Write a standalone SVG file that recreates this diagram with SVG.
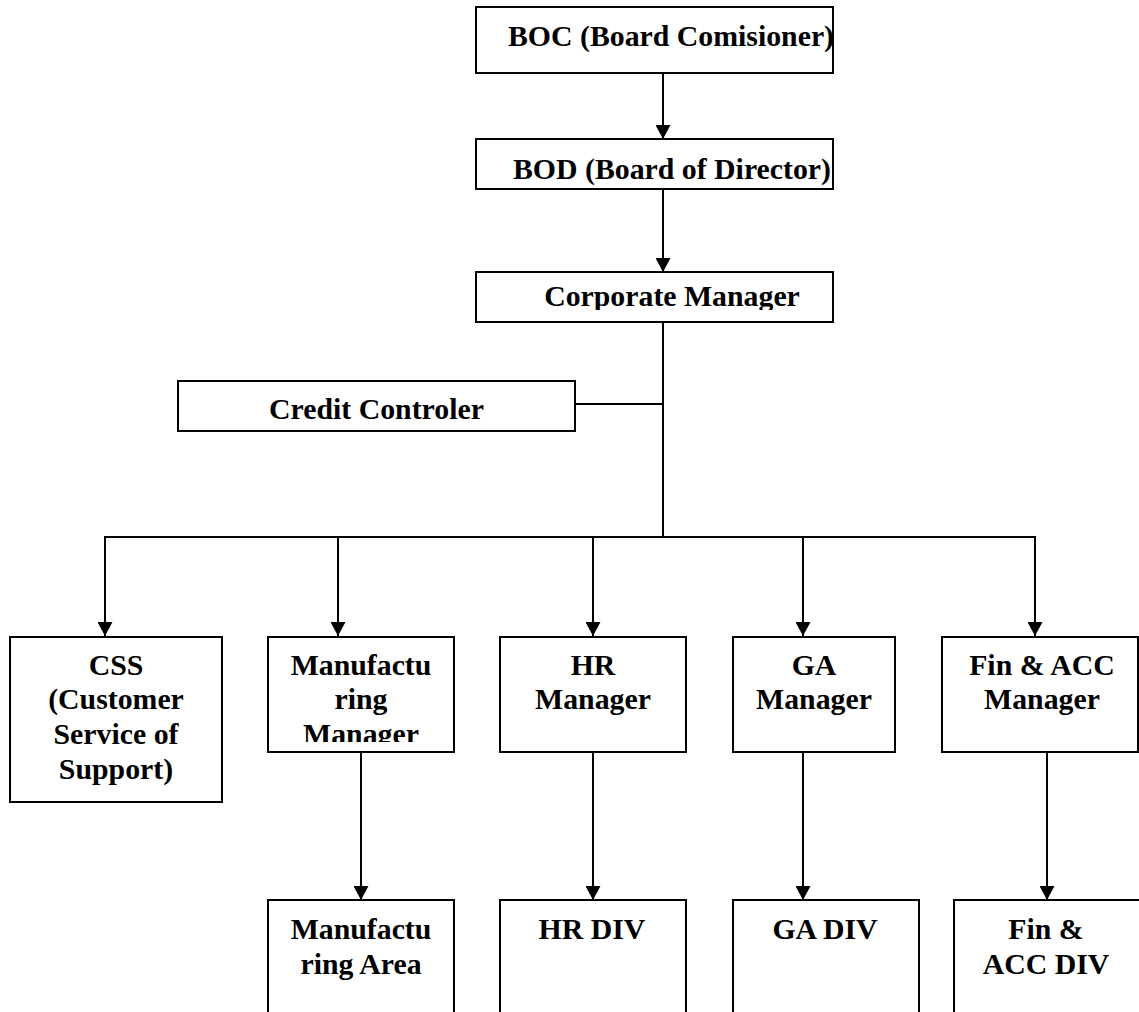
<svg xmlns="http://www.w3.org/2000/svg" width="1139" height="1012" viewBox="0 0 1139 1012">
<style>
.box{fill:#fff;stroke:#000;stroke-width:2}
.t{font-family:"Liberation Serif","Times New Roman",serif;font-weight:bold;font-size:29.8px;fill:#000;text-anchor:middle}
.ln{fill:none;stroke:#000;stroke-width:2}
</style>
<defs>
<marker id="ah" markerWidth="14" markerHeight="15" refX="14" refY="7.5" orient="auto" markerUnits="userSpaceOnUse">
<path d="M0,0 L14,7.5 L0,15 Z" fill="#000"/>
</marker>
<clipPath id="cpCorp"><rect x="476" y="272" width="360" height="38"/></clipPath>
<clipPath id="cpMM"><rect x="268" y="637" width="186" height="105"/></clipPath>
</defs>
<rect width="1139" height="1012" fill="#fff"/>
<g id="connectors">
<line class="ln" x1="663" y1="73" x2="663" y2="139" marker-end="url(#ah)"/>
<line class="ln" x1="663" y1="189" x2="663" y2="272" marker-end="url(#ah)"/>
<polyline class="ln" points="663,322 663,537"/>
<line class="ln" x1="575" y1="404" x2="663" y2="404"/>
<line class="ln" x1="104" y1="537" x2="1036" y2="537"/>
<line class="ln" x1="105" y1="537" x2="105" y2="636" marker-end="url(#ah)"/>
<line class="ln" x1="338" y1="537" x2="338" y2="636" marker-end="url(#ah)"/>
<line class="ln" x1="593" y1="537" x2="593" y2="636" marker-end="url(#ah)"/>
<line class="ln" x1="803" y1="537" x2="803" y2="636" marker-end="url(#ah)"/>
<line class="ln" x1="1035" y1="537" x2="1035" y2="636" marker-end="url(#ah)"/>
<line class="ln" x1="361" y1="752" x2="361" y2="900" marker-end="url(#ah)"/>
<line class="ln" x1="593" y1="752" x2="593" y2="900" marker-end="url(#ah)"/>
<line class="ln" x1="803" y1="752" x2="803" y2="900" marker-end="url(#ah)"/>
<line class="ln" x1="1047" y1="752" x2="1047" y2="900" marker-end="url(#ah)"/>
</g>
<g id="boc">
<rect class="box" x="476" y="7" width="357" height="66"/>
<text class="t" x="671" y="46">BOC (Board Comisioner)</text>
</g>
<g id="bod">
<rect class="box" x="476" y="139" width="357" height="50"/>
<text class="t" x="672" y="179">BOD (Board of Director)</text>
</g>
<g id="corporate">
<rect class="box" x="476" y="272" width="357" height="50"/>
<text class="t" x="672" y="306" clip-path="url(#cpCorp)">Corporate Manager</text>
</g>
<g id="credit">
<rect class="box" x="178" y="381" width="397" height="50"/>
<text class="t" x="376.5" y="419">Credit Controler</text>
</g>
<g id="css">
<rect class="box" x="10" y="637" width="212" height="165"/>
<text class="t" x="116" y="675">CSS</text>
<text class="t" x="116" y="709">(Customer</text>
<text class="t" x="116" y="744">Service of</text>
<text class="t" x="116" y="779">Support)</text>
</g>
<g id="mfg-manager">
<rect class="box" x="268" y="637" width="186" height="115"/>
<g clip-path="url(#cpMM)">
<text class="t" x="361" y="675">Manufactu</text>
<text class="t" x="361" y="709">ring</text>
<text class="t" x="361" y="744">Manager</text>
</g>
</g>
<g id="hr-manager">
<rect class="box" x="500" y="637" width="186" height="115"/>
<text class="t" x="593" y="675">HR</text>
<text class="t" x="593" y="709">Manager</text>
</g>
<g id="ga-manager">
<rect class="box" x="733" y="637" width="162" height="115"/>
<text class="t" x="814" y="675">GA</text>
<text class="t" x="814" y="709">Manager</text>
</g>
<g id="fin-manager">
<rect class="box" x="942" y="637" width="196" height="115"/>
<text class="t" x="1042" y="675">Fin &amp; ACC</text>
<text class="t" x="1042" y="709">Manager</text>
</g>
<g id="mfg-area">
<rect class="box" x="268" y="900" width="186" height="130"/>
<text class="t" x="361" y="939">Manufactu</text>
<text class="t" x="361" y="974">ring Area</text>
</g>
<g id="hr-div">
<rect class="box" x="500" y="900" width="186" height="130"/>
<text class="t" x="592" y="939">HR DIV</text>
</g>
<g id="ga-div">
<rect class="box" x="733" y="900" width="186" height="130"/>
<text class="t" x="825" y="939">GA DIV</text>
</g>
<g id="fin-div">
<rect class="box" x="954" y="900" width="200" height="130"/>
<text class="t" x="1046" y="939">Fin &amp;</text>
<text class="t" x="1046" y="974">ACC DIV</text>
</g>
</svg>
